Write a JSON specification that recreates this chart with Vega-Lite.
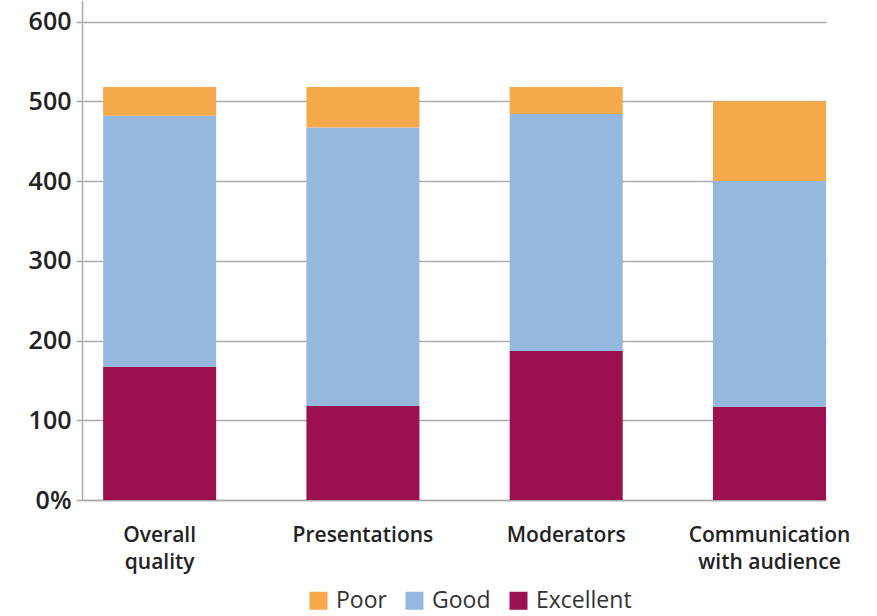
{
  "$schema": "https://vega.github.io/schema/vega-lite/v6.json",
  "width": 744,
  "height": 500,
  "autosize": "none",
  "padding": {"left": 82, "top": 0, "right": 51, "bottom": 116},
  "background": "white",
  "data": {
    "values": [
      {"item": "Overall quality", "rating": "Excellent", "rank": 1, "value": 167},
      {"item": "Overall quality", "rating": "Good", "rank": 2, "value": 315},
      {"item": "Overall quality", "rating": "Poor", "rank": 3, "value": 36},
      {"item": "Presentations", "rating": "Excellent", "rank": 1, "value": 118},
      {"item": "Presentations", "rating": "Good", "rank": 2, "value": 349},
      {"item": "Presentations", "rating": "Poor", "rank": 3, "value": 51},
      {"item": "Moderators", "rating": "Excellent", "rank": 1, "value": 187},
      {"item": "Moderators", "rating": "Good", "rank": 2, "value": 297},
      {"item": "Moderators", "rating": "Poor", "rank": 3, "value": 34},
      {"item": "Communication with audience", "rating": "Excellent", "rank": 1, "value": 117},
      {"item": "Communication with audience", "rating": "Good", "rank": 2, "value": 283},
      {"item": "Communication with audience", "rating": "Poor", "rank": 3, "value": 100}
    ]
  },
  "mark": {"type": "bar"},
  "encoding": {
    "x": {
      "field": "item",
      "type": "nominal",
      "sort": null,
      "scale": {"paddingInner": 0.444, "paddingOuter": 0.052, "align": 1},
      "axis": {
        "title": null,
        "labelAngle": 0,
        "ticks": false,
        "domainColor": "#aaaaaa",
        "domainWidth": 1.5,
        "labelFont": "Open Sans",
        "labelFontWeight": 600,
        "labelFontSize": 21,
        "labelColor": "#222222",
        "labelPadding": 24,
        "labelLineHeight": 27,
        "labelBaseline": "top",
        "labelExpr": "datum.label == 'Overall quality' ? ['Overall', 'quality'] : datum.label == 'Communication with audience' ? ['Communication', 'with audience'] : datum.label"
      }
    },
    "y": {
      "field": "value",
      "type": "quantitative",
      "stack": "zero",
      "scale": {"domain": [0, 627], "nice": false},
      "axis": {
        "title": null,
        "values": [0, 100, 200, 300, 400, 500, 600],
        "labelExpr": "datum.value == 0 ? '0%' : datum.label",
        "grid": true,
        "gridColor": "#aaaaaa",
        "gridWidth": 1.5,
        "domainColor": "#aaaaaa",
        "domainWidth": 1.5,
        "tickColor": "#aaaaaa",
        "tickSize": 6,
        "tickWidth": 1.5,
        "labelFont": "Open Sans",
        "labelFontWeight": 600,
        "labelFontSize": 25,
        "labelColor": "#222222",
        "labelPadding": 5
      }
    },
    "color": {
      "field": "rating",
      "type": "nominal",
      "scale": {"domain": ["Poor", "Good", "Excellent"], "range": ["#F5A94A", "#95B8DF", "#9B1150"]},
      "legend": {
        "title": null,
        "orient": "none",
        "direction": "horizontal",
        "legendX": 225,
        "legendY": 589,
        "symbolType": "square",
        "symbolSize": 324,
        "symbolStrokeWidth": 0,
        "labelFont": "Open Sans",
        "labelFontSize": 23,
        "labelColor": "#333333",
        "labelOffset": 6,
        "columnPadding": 16
      }
    },
    "order": {"field": "rank", "type": "quantitative", "sort": "ascending"}
  },
  "config": {"view": {"stroke": null}}
}
